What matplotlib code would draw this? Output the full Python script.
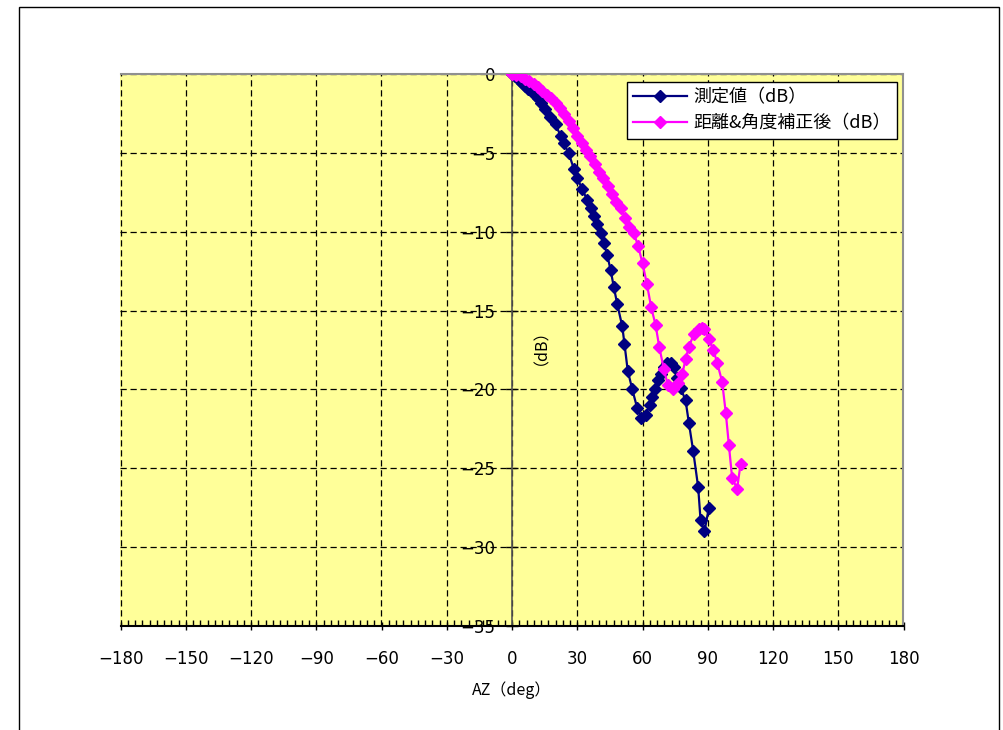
import matplotlib
matplotlib.use("Agg")
import matplotlib.pyplot as plt
from matplotlib.patches import Rectangle
from matplotlib.ticker import MultipleLocator

plt.rcParams["font.family"] = ["Noto Sans CJK JP", "DejaVu Sans"]

# 測定値 (dB)
AZ_MEAS = [0, 1.5, 3, 4.5, 6, 7.5, 9, 10.5, 12, 13.5, 15.4, 17.7, 20, 22.3,
           23.8, 26, 28.4, 30, 32.3, 34.6, 36.1, 37.6, 39.2, 40.7, 42.2, 43.8,
           45.3, 46.8, 48.4, 50.7, 51.7, 53.2, 55.3, 57.6, 59.5, 61.4, 63.3,
           64.4, 65.7, 67, 68.3, 69.8, 71.4, 72.9, 74.4, 75.9, 77.5, 79.8,
           81.3, 83.3, 85.6, 86.7, 88.5, 90.5]
DB_MEAS = [0, -0.15, -0.35, -0.55, -0.75, -0.95, -1.1, -1.3, -1.55, -1.85,
           -2.2, -2.7, -3.2, -3.9, -4.4, -5.0, -6.0, -6.6, -7.3, -8.0, -8.5,
           -9.0, -9.5, -10.05, -10.7, -11.5, -12.4, -13.5, -14.6, -16.0, -17.1,
           -18.8, -20.0, -21.2, -21.8, -21.6, -21.0, -20.5, -20.0, -19.4, -19.0,
           -18.6, -18.3, -18.3, -18.6, -19.3, -19.9, -20.7, -22.1, -23.9, -26.2,
           -28.3, -29.0, -27.5]

# 距離&角度補正後 (dB)
AZ_CORR = [0, 2, 4, 6, 8, 10, 12, 14, 16, 18, 20, 22, 24, 26, 28, 30, 32, 34,
           36, 38, 40, 42, 44, 46, 48, 50, 52, 54, 56, 58, 60, 62, 64, 66, 67.7,
           69.8, 71.6, 74.2, 76.3, 78.3, 79.8, 81.3, 83.6, 85.9, 87.3, 88.5,
           90.5, 92.6, 94.3, 96.6, 98.3, 99.7, 101.2, 103.5, 105.1]
DB_CORR = [0, -0.05, -0.15, -0.3, -0.45, -0.65, -0.85, -1.05, -1.3, -1.55,
           -1.85, -2.15, -2.55, -2.95, -3.4, -3.9, -4.4, -4.8, -5.2, -5.7, -6.2,
           -6.6, -7.1, -7.6, -8.1, -8.5, -9.1, -9.7, -10.1, -10.9, -12.0, -13.3,
           -14.8, -15.9, -17.3, -18.7, -19.7, -20.0, -19.6, -19.0, -18.1, -17.3,
           -16.5, -16.2, -16.1, -16.2, -16.8, -17.5, -18.3, -19.5, -21.5, -23.5,
           -25.6, -26.3, -24.7]

X_TICKS = list(range(-180, 181, 30))
Y_TICKS = list(range(-35, 1, 5))


def main():
    fig = plt.figure(figsize=(10.04, 7.30), dpi=100)
    fig.patches.append(Rectangle((19 / 1004, -0.05), 980 / 1004, 1.05 - 7 / 730,
                                 transform=fig.transFigure, fill=False,
                                 edgecolor="black", lw=1.0))

    ax = fig.add_axes([120.5 / 1004, 1 - 626 / 730, 783 / 1004, 552 / 730])
    ax.set_facecolor("#FFFF99")

    ax.plot(AZ_MEAS, DB_MEAS, color="#000080", lw=1.6, marker="D", ms=6.2,
            label="測定値（dB）", zorder=3)
    ax.plot(AZ_CORR, DB_CORR, color="#FF00FF", lw=1.6, marker="D", ms=6.2,
            label="距離&角度補正後（dB）", zorder=3)

    ax.set_xlim(-180, 180)
    ax.set_ylim(-35, 0)
    ax.set_xticks(X_TICKS)
    ax.set_yticks(Y_TICKS)
    ax.xaxis.set_minor_locator(MultipleLocator(30 / 9))

    ax.grid(True, which="major", color="black", lw=0.9, linestyle=(0, (5, 3)))
    ax.set_axisbelow(True)

    ax.spines["left"].set_position(("data", 0))
    ax.spines["left"].set_color("#555555")
    ax.spines["left"].set_linewidth(1.2)
    ax.spines["bottom"].set_color("black")
    ax.spines["bottom"].set_linewidth(1.5)
    for side in ("top", "right"):
        ax.spines[side].set_color("#909090")
        ax.spines[side].set_linewidth(1.5)

    ax.tick_params(axis="x", which="major", direction="inout", length=6,
                   width=1, pad=14, labelsize=12)
    ax.tick_params(axis="x", which="minor", direction="in", length=4, width=1)
    ax.tick_params(axis="y", which="major", direction="inout", length=8,
                   width=1, pad=8, labelsize=12)
    for lab in ax.get_xticklabels() + ax.get_yticklabels():
        lab.set_family("DejaVu Sans")

    ax.set_xlabel("AZ（deg）", fontsize=11.5)
    ax.xaxis.set_label_coords(0.5, -0.101)
    ax.set_ylabel("（dB）", fontsize=11.5)
    ax.yaxis.set_label_coords(0.537, 0.52)

    leg = ax.legend(loc="upper right", bbox_to_anchor=(0.9917, 0.9855),
                    borderaxespad=0, fancybox=False, framealpha=1,
                    edgecolor="black", fontsize=13, handlelength=3.0,
                    handletextpad=0.33, labelspacing=0.45, borderpad=0.35)
    leg.get_frame().set_linewidth(1.0)

    fig.savefig("out.png", dpi=100)


if __name__ == "__main__":
    main()
